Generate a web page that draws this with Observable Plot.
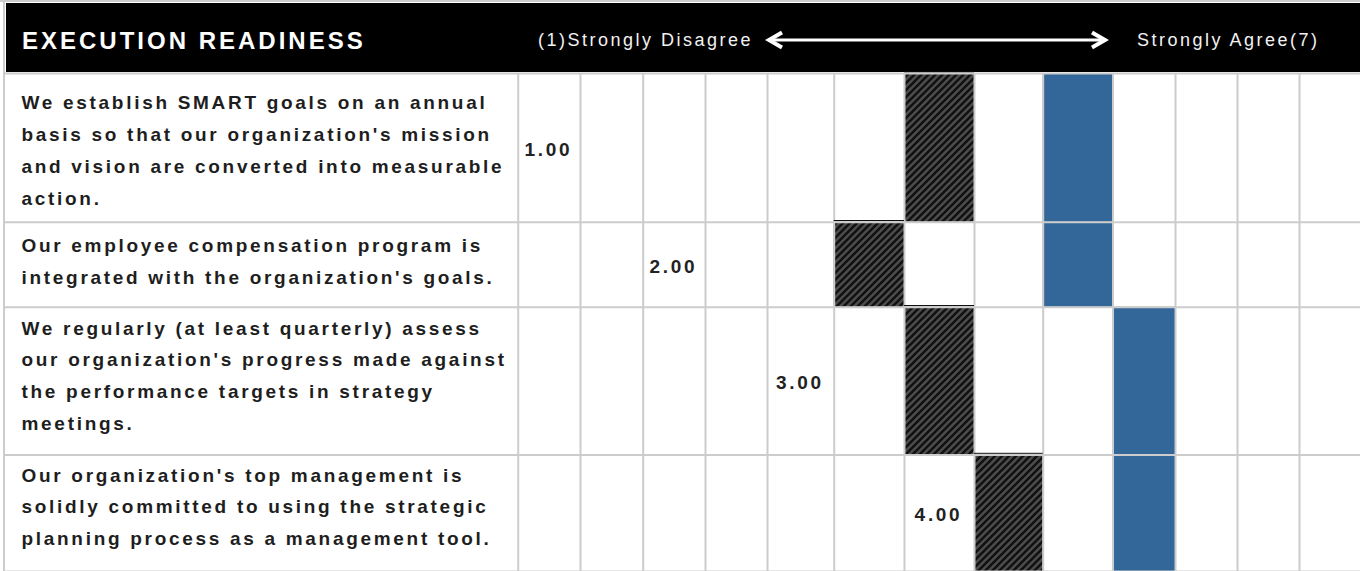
<!DOCTYPE html>
<html>
<head>
<meta charset="utf-8">
<script src="https://cdn.jsdelivr.net/npm/d3@7"></script>
<script src="https://cdn.jsdelivr.net/npm/@observablehq/plot@0.6"></script>
<style>
  html, body { margin: 0; padding: 0; background: #fff; }
  #page { position: relative; width: 1360px; height: 571px; overflow: hidden; font-family: "Liberation Sans", Arial, Helvetica, sans-serif; }
  .topline { position: absolute; left: 0; top: 0; width: 1360px; height: 2px; background: #cccccc; }
  .leftline { position: absolute; left: 3px; top: 0; width: 2px; height: 571px; background: #cccccc; z-index: 2; }
  .black { position: absolute; left: 6px; top: 3px; width: 1354px; height: 69px; background: #000; }
  .title { position: absolute; left: 22px; top: 29px; font-size: 24px; line-height: 24px; font-weight: bold; color: #fff; letter-spacing: 3px; white-space: nowrap; }
  .lab { position: absolute; top: 31px; font-size: 18px; line-height: 18px; color: #f2f2f2; letter-spacing: 2.5px; white-space: nowrap; }
  #arrow { position: absolute; left: 0; top: 0; }
  #chart { position: absolute; left: 0; top: 72px; }
  #chart svg text { letter-spacing: 2.7px; }
</style>
</head>
<body>
<div id="page">
  <div class="topline"></div>
  <div class="black"></div>
  <div class="title" id="title"></div>
  <div class="lab" id="lowLab" style="left:538px"></div>
  <svg id="arrow" width="1360" height="72">
    <line x1="771" y1="40" x2="1104" y2="40" stroke="#fff" stroke-width="3"/>
    <polyline points="782,32.5 769,40 782,47.5" fill="none" stroke="#fff" stroke-width="4"/>
    <polyline points="1092,32.5 1105,40 1092,47.5" fill="none" stroke="#fff" stroke-width="4"/>
  </svg>
  <div class="lab" id="highLab" style="left:1137px"></div>
  <div id="chart"></div>
  <div class="leftline"></div>
</div>
<script>
// ---- data ----
const headerTitle = "EXECUTION READINESS";
const lowLabel = "(1)Strongly Disagree";
const highLabel = "Strongly Agree(7)";

const questions = [
  "We establish SMART goals on an annual\nbasis so that our organization's mission\nand vision are converted into measurable\naction.",
  "Our employee compensation program is\nintegrated with the organization's goals.",
  "We regularly (at least quarterly) assess\nour organization's progress made against\nthe performance targets in strategy\nmeetings.",
  "Our organization's top management is\nsolidly committed to using the strategic\nplanning process as a management tool."
];
const rowNumbers = [1, 2, 3, 4];
const scalePoints = [1, 1.5, 2, 2.5, 3, 3.5, 4, 4.5, 5, 5.5, 6, 6.5, 7];
const hatchedValues = [4, 3.5, 4, 4.5];
const blueValues = [5, 5, 5.5, 5.5];

// ---- layout (pixel geometry of the table) ----
const colEdgesPx = [517.7, 580, 642.7, 705, 767, 833.7, 904, 974, 1042.7, 1112.5, 1175, 1237, 1299, 1361];
const rowEdgesPx = [1, 149.7, 234.7, 382.5, 499];
const textNudgePx = [-1, -7, -9, -10];
const half = 0.25;

document.getElementById("title").textContent = headerTitle;
document.getElementById("lowLab").textContent = lowLabel;
document.getElementById("highLab").textContent = highLabel;

const xEdges = [...scalePoints.map(v => v - half), scalePoints[scalePoints.length - 1] + half];

const hatched = hatchedValues.map((v, i) => ({v, row: i}));
const blue = blueValues.map((v, i) => ({v, row: i}));

const questionMarks = questions.map((q, i) =>
  Plot.text([q], {
    frameAnchor: "left", dx: 17, dy: textNudgePx[i], y: () => i + 0.5, text: d => d,
    textAnchor: "start", fontSize: 19, fontWeight: "bold", lineHeight: 1.668, fill: "#1e1e1e"
  })
);

const chart = Plot.plot({
  width: 1360,
  height: 499,
  marginLeft: 4,
  marginRight: 0,
  marginTop: 0,
  marginBottom: 0,
  style: {fontFamily: "'Liberation Sans', Arial, Helvetica, sans-serif", background: "transparent", overflow: "visible"},
  x: {type: "linear", domain: xEdges, range: colEdgesPx, axis: null},
  y: {type: "linear", domain: [0, 1, 2, 3, 4], range: rowEdgesPx, axis: null},
  marks: [
    Plot.rect(hatched, {x1: d => d.v - half, x2: d => d.v + half, y1: d => d.row, y2: d => d.row + 1, fill: "url(#hatch)"}),
    Plot.rect(blue, {x1: d => d.v - half, x2: d => d.v + half, y1: d => d.row, y2: d => d.row + 1, fill: "#336699"}),
    Plot.ruleX(xEdges, {y1: 0, y2: 4, stroke: "#cccccc", strokeWidth: 2}),
    Plot.ruleY([0, 1, 2, 3, 4], {stroke: "#cccccc", strokeWidth: 2}),
    Plot.ruleY(hatched, {y: d => d.row, x1: d => d.v - half, x2: d => d.v + half, dy: -1.7, stroke: "#111", strokeWidth: 1}),
    ...questionMarks,
    Plot.text(rowNumbers, {
      x: d => d, y: (d, i) => i + 0.5, text: d => d.toFixed(2), dx: -1, dy: 2,
      fontSize: 19, fontWeight: "bold", fill: "#222222"
    })
  ]
});

d3.select(chart).insert("defs", ":first-child").html(
  `<pattern id="hatch" patternUnits="userSpaceOnUse" width="7" height="7">
     <rect width="7" height="7" fill="#4d4d4d"/>
     <path d="M-1,1 l2,-2 M0,7 l7,-7 M6,8 l2,-2" stroke="#111" stroke-width="2.6"/>
   </pattern>`
);

document.getElementById("chart").appendChild(chart);
</script>
</body>
</html>
